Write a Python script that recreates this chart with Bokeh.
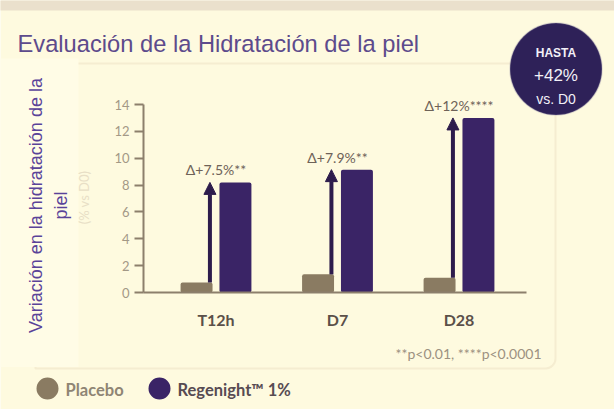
import math
from bokeh.plotting import figure
from bokeh.models import (ColumnDataSource, Range1d, FixedTicker, Label, LinearAxis,
                          BoxAnnotation, Arrow, NormalHead)
from bokeh.transform import dodge
from bokeh.core.properties import value
from bokeh.embed import file_html
from bokeh.resources import INLINE

# ---------------- data ----------------
categories = ["T12h", "D7", "D28"]
placebo = [0.75, 1.35, 1.1]
regenight = [8.2, 9.15, 13.0]
delta_labels = ["Δ+7.5%**", "Δ+7.9%**", "Δ+12%****"]
y_ticks = [0, 2, 4, 6, 8, 10, 12, 14]
series_names = ["Placebo", "Regenight™ 1%"]
title_text = "Evaluación de la Hidratación de la piel"
ylabel_lines = ["Variación en la hidratación de la", "piel"]
ghost_label = "(% vs D0)"
badge_lines = ["HASTA", "+42%", "vs. D0"]
footnote = "**p<0.01, ****p<0.0001"

# ---------------- style ----------------
BG = "#FEFADF"
STRIP = "#FFFCE6"
TOPBAND = "#EAE0CC"
PLACEBO_C = "#8A7B62"
REGEN_C = "#3A2466"
ARROW_C = "#2D1C4C"
AXIS_C = "#8C7F6C"
TICKLBL_C = "#A39886"
CAT_C = "#5B5049"
DELTA_C = "#6E6258"
PANEL_LINE = "#E0D2B3"
TITLE_C = "#5D4B8C"
YLBL_C = "#5A4399"
BADGE_C = "#2E2158"

W, H = 614, 409
# layout geometry (pixels): category spacing / first category centre / zero line
PPU_X, CX0 = 121.5, 215.5
PPU_Y, Y0 = 188 / 14, 292
AXIS_X, AXIS_END = 143, 526

def xd(px):
    return (px - CX0) / PPU_X

def sx(px):
    return px

def sy(py):
    return H - py

x_pos = list(range(len(categories)))

p = figure(width=W, height=H,
           x_range=Range1d(xd(0), xd(W)),
           y_range=Range1d(-(H - Y0) / PPU_Y, Y0 / PPU_Y),
           x_axis_location=None, y_axis_location=None,
           output_backend="svg", toolbar_location=None,
           min_border=0, min_border_left=0, min_border_right=0,
           min_border_top=0, min_border_bottom=0,
           background_fill_color=BG, border_fill_color=BG,
           outline_line_color=None)
p.grid.visible = False

# ---------- decorative panels (drawn first) ----------
p.add_layout(BoxAnnotation(left=sx(-5), right=sx(W + 5), top=sy(-5), bottom=sy(10),
                           left_units="screen", right_units="screen",
                           top_units="screen", bottom_units="screen",
                           fill_color=TOPBAND, fill_alpha=1, line_color=None,
                           level="underlay"))
p.add_layout(BoxAnnotation(left=sx(35), right=sx(555), top=sy(63), bottom=sy(368),
                           left_units="screen", right_units="screen",
                           top_units="screen", bottom_units="screen",
                           fill_alpha=0, line_color=PANEL_LINE, line_width=2,
                           border_radius=(0, 0, 10, 0), level="underlay"))
p.add_layout(BoxAnnotation(left=sx(-20), right=sx(78), top=sy(58), bottom=sy(366.5),
                           left_units="screen", right_units="screen",
                           top_units="screen", bottom_units="screen",
                           fill_color=STRIP, fill_alpha=1, line_color=None,
                           level="underlay"))

src = ColumnDataSource(dict(x=x_pos, cat=categories, placebo=placebo,
                            regen=regenight, delta=delta_labels))

p.vbar(x=dodge("x", -0.16), top="placebo", width=0.263,
       source=src, fill_color=PLACEBO_C, line_color=None, border_radius=2)
p.vbar(x=dodge("x", 0.16), top="regen", width=0.263,
       source=src, fill_color=REGEN_C, line_color=None, border_radius=2)

arrow = Arrow(end=NormalHead(size=12, fill_color=ARROW_C, line_color=ARROW_C),
              x_start=dodge("x", -0.05), y_start="placebo",
              x_end=dodge("x", -0.05), y_end="regen",
              source=src, line_color=ARROW_C, line_width=4)
p.add_layout(arrow)

p.text(x="x", y="regen", text="delta", source=src, text_align="center",
       text_baseline="bottom", y_offset=-4, text_font=value("Lato"),
       text_font_size="14px", text_color=DELTA_C)

# ---------- axes (fixed inside the frame) ----------
yaxis = LinearAxis(fixed_location=xd(AXIS_X), bounds=(y_ticks[0], y_ticks[-1]),
                   ticker=FixedTicker(ticks=y_ticks))
yaxis.axis_line_color = AXIS_C
yaxis.axis_line_width = 2
yaxis.major_tick_line_color = AXIS_C
yaxis.major_tick_line_width = 2
yaxis.major_tick_out = 9
yaxis.major_tick_in = 0
yaxis.minor_tick_line_color = None
yaxis.major_label_standoff = 5
yaxis.major_label_text_font = "Lato"
yaxis.major_label_text_font_size = "13px"
yaxis.major_label_text_color = TICKLBL_C
p.add_layout(yaxis, "left")

xaxis = LinearAxis(fixed_location=0, bounds=(xd(AXIS_X), xd(AXIS_END)),
                   ticker=FixedTicker(ticks=x_pos),
                   major_label_overrides={i: c for i, c in zip(x_pos, categories)})
xaxis.axis_line_color = AXIS_C
xaxis.axis_line_width = 2
xaxis.major_tick_line_color = None
xaxis.minor_tick_line_color = None
xaxis.major_label_standoff = 11
xaxis.major_label_text_font = "Lato"
xaxis.major_label_text_font_style = "bold"
xaxis.major_label_text_font_size = "16px"
xaxis.major_label_text_color = CAT_C
p.add_layout(xaxis, "below")

# ---------- badge ----------
bcx, bcy, br = 555.5, 68.5, 46
p.add_layout(BoxAnnotation(left=sx(bcx - br), right=sx(bcx + br), top=sy(bcy - br),
                           bottom=sy(bcy + br),
                           left_units="screen", right_units="screen",
                           top_units="screen", bottom_units="screen",
                           fill_color=BADGE_C, fill_alpha=1, line_color="#8E87A6",
                           line_width=1.5, border_radius=br))
for txt, py, fs, st in zip(badge_lines, [52, 75, 98], ["12px", "17px", "14px"],
                           ["bold", "normal", "normal"]):
    p.add_layout(Label(x=sx(bcx), y=sy(py), x_units="screen", y_units="screen",
                       text=txt, text_align="center", text_baseline="middle",
                       text_font="Liberation Sans", text_font_size=fs,
                       text_font_style=st, text_color="#F2F0F7"))

# ---------- title ----------
p.add_layout(Label(x=sx(17), y=sy(43), x_units="screen", y_units="screen",
                   text=title_text, text_align="left", text_baseline="alphabetic",
                   text_font="Liberation Sans", text_font_size="23.7px",
                   text_color=TITLE_C))

# ---------- y label (two lines, rotated) ----------
for txt, px in zip(ylabel_lines, [35, 60]):
    p.add_layout(Label(x=sx(px), y=sy(205), x_units="screen", y_units="screen",
                       text=txt, angle=math.pi / 2, text_align="center",
                       text_baseline="middle", text_font="Liberation Sans",
                       text_font_size="18px", text_color=YLBL_C))
p.add_layout(Label(x=sx(83), y=sy(197), x_units="screen", y_units="screen",
                   text=ghost_label, angle=math.pi / 2, text_align="center",
                   text_baseline="middle", text_font="Lato", text_font_size="13px",
                   text_color="#E8DFC6"))

# ---------- footnote ----------
p.add_layout(Label(x=sx(541), y=sy(353), x_units="screen", y_units="screen",
                   text=footnote, text_align="right", text_baseline="middle",
                   text_font="Lato", text_font_size="14px", text_color="#9C9181"))

# ---------- legend ----------
for name, col, cx, tx, tcol in zip(series_names, [PLACEBO_C, REGEN_C], [47, 159],
                                   [65, 177], ["#8F8574", "#574B52"]):
    r = 11
    p.add_layout(BoxAnnotation(left=sx(cx - r), right=sx(cx + r), top=sy(388 - r),
                               bottom=sy(388 + r),
                               left_units="screen", right_units="screen",
                               top_units="screen", bottom_units="screen",
                               fill_color=col, fill_alpha=1, line_color=None,
                               border_radius=r))
    p.add_layout(Label(x=sx(tx), y=sy(389), x_units="screen", y_units="screen",
                       text=name, text_align="left", text_baseline="middle",
                       text_font="Lato", text_font_size="16.5px",
                       text_font_style="bold", text_color=tcol))

open("out.html", "w").write(file_html(p, INLINE))
